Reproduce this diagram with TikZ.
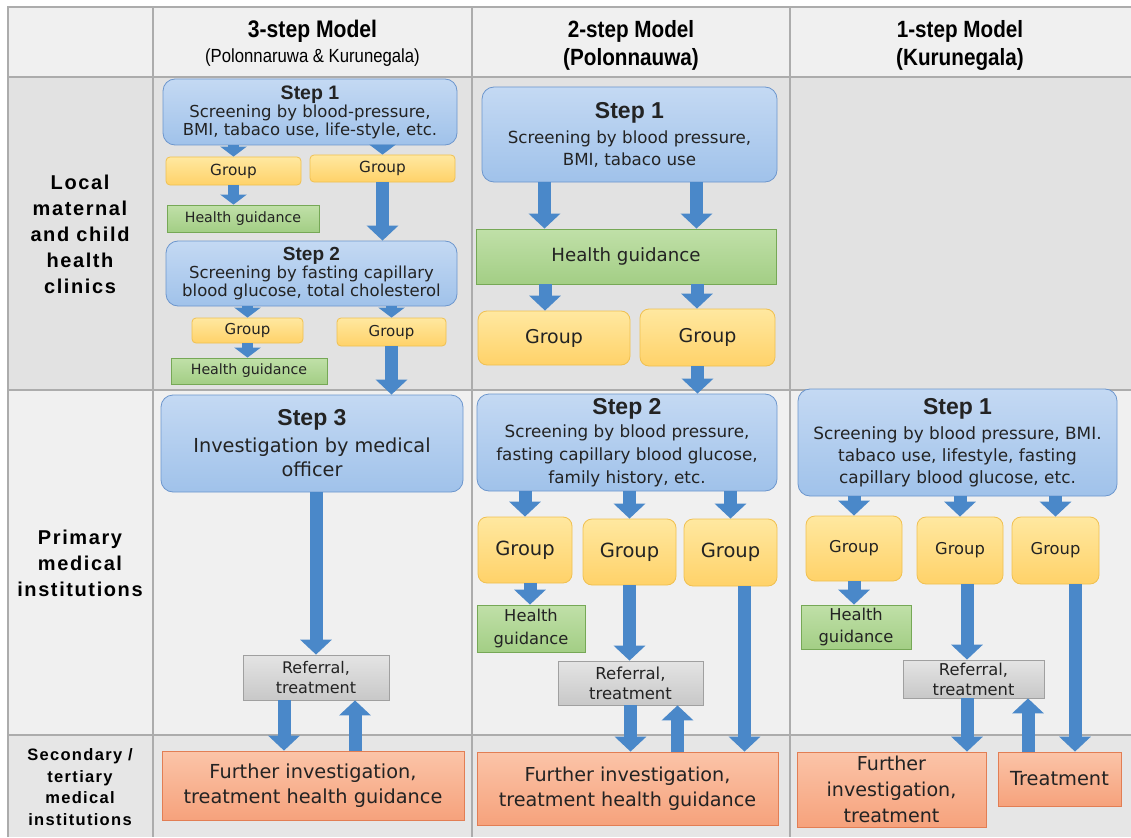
\documentclass[tikz,border=0pt]{standalone}
\usepackage{fontspec}
\setmainfont{DejaVu Sans}
\newfontfamily\headfont[FakeStretch=0.88]{Liberation Sans}
\newfontfamily\labelfont[LetterSpace=8]{Liberation Sans}
\newfontfamily\stepfont{Liberation Sans}
\usetikzlibrary{arrows.meta}

\newcommand\stepname[2]{{\stepfont\bfseries\fontsize{#1}{#1}\selectfont #2}}

\begin{document}
\begin{tikzpicture}[x=1pt,y=-1pt,
    every node/.style={text=txt, inner sep=0pt, align=center},
    stepbox/.style={draw=stepline, line width=0.8pt, rounded corners=12pt, top color=steptop, bottom color=stepbot},
    groupbox/.style={draw=grpline, line width=0.8pt, rounded corners=9pt, top color=grptop, bottom color=grpbot},
    guidebox/.style={draw=grnline, line width=0.8pt, top color=grntop, bottom color=grnbot},
    refbox/.style={draw=gryline, line width=0.8pt, top color=grytop, bottom color=grybot},
    furbox/.style={draw=orgline, line width=0.8pt, top color=orgtop, bottom color=orgbot},
    gridline/.style={draw=gridgray, line width=1.2pt},
    bigarrow/.style={draw=arrowblue, line width=13pt, -{Triangle[width=31pt,length=15pt]}},
    smallarrow/.style={draw=arrowblue, line width=11pt, -{Triangle[width=26pt,length=10pt]}}]

    % Changing colors
    \definecolor{txt}{RGB}{35,35,35}%
    \definecolor{gridgray}{RGB}{172,172,172}%
    \definecolor{hdrgray}{RGB}{240,240,240}%
    \definecolor{rowdark}{RGB}{226,226,226}%
    \definecolor{rowmid}{RGB}{230,230,230}%
    \definecolor{steptop}{RGB}{196,217,243}%
    \definecolor{stepbot}{RGB}{160,194,234}%
    \definecolor{stepline}{RGB}{108,150,205}%
    \definecolor{grptop}{RGB}{255,232,160}%
    \definecolor{grpbot}{RGB}{255,210,105}%
    \definecolor{grpline}{RGB}{240,192,80}%
    \definecolor{grntop}{RGB}{192,224,168}%
    \definecolor{grnbot}{RGB}{163,206,133}%
    \definecolor{grnline}{RGB}{118,168,86}%
    \definecolor{grytop}{RGB}{228,228,228}%
    \definecolor{grybot}{RGB}{200,200,200}%
    \definecolor{gryline}{RGB}{160,160,160}%
    \definecolor{orgtop}{RGB}{251,196,168}%
    \definecolor{orgbot}{RGB}{246,162,124}%
    \definecolor{orgline}{RGB}{226,126,84}%
    \definecolor{arrowblue}{RGB}{74,136,201}%

    \useasboundingbox (0,0) rectangle (1131,837);

    % Filling table rows
    \fill[hdrgray] (8,7) rectangle (1131,77);
    \fill[rowdark] (8,77) rectangle (1131,390);
    \fill[hdrgray] (8,390) rectangle (1131,735);
    \fill[rowmid] (8,735) rectangle (1131,837);

    % Drawing table lines
    \draw[gridline] (8,837) -- (8,7) -- (1131,7);
    \foreach \y in {77,390,735} \draw[gridline] (8,\y) -- (1131,\y);
    \foreach \x in {153,472,790} \draw[gridline] (\x,7) -- (\x,837);

    % Marking column heads
    \node[text=black, font=\headfont\fontsize{19}{25}\selectfont] (m3) at (312.5,43)
        {{\bfseries\fontsize{24}{24}\selectfont 3-step Model}\\(Polonnaruwa \& Kurunegala)};
    \node[text=black, font=\headfont\bfseries\fontsize{23.5}{28}\selectfont] (m2) at (631,45)
        {2-step Model\\(Polonnauwa)};
    \node[text=black, font=\headfont\bfseries\fontsize{23.5}{28}\selectfont] (m1) at (960,45)
        {1-step Model\\(Kurunegala)};

    % Marking row heads
    \node[text=black, font=\labelfont\bfseries\fontsize{20}{26}\selectfont] (local) at (80,234)
        {Local\\maternal\\and child\\health\\clinics};
    \node[text=black, font=\labelfont\bfseries\fontsize{20}{26}\selectfont] (primary) at (80,563)
        {Primary\\medical\\institutions};
    \node[text=black, font=\labelfont\bfseries\fontsize{16.5}{21.5}\selectfont] (secondary) at (80,787)
        {Secondary /\\tertiary\\medical\\institutions};

    % Drawing 3-step model
    \node[stepbox, minimum width=294pt, minimum height=66pt, font=\fontsize{16.5}{18}\selectfont] (s31) at (310,112)
        {\stepname{19.5}{Step 1}\\Screening by blood-pressure,\\BMI, tabaco use, life-style, etc.};
    \node[groupbox, rounded corners=4pt, minimum width=135pt, minimum height=28pt, font=\fontsize{15.3}{18}\selectfont] (g31a) at (233.5,171) {Group};
    \node[groupbox, rounded corners=4pt, minimum width=145pt, minimum height=27pt, font=\fontsize{15.3}{18}\selectfont] (g31b) at (382.5,168.5) {Group};
    \node[guidebox, minimum width=152pt, minimum height=27pt, font=\fontsize{14.2}{17}\selectfont] (h31) at (243,218.5) {Health guidance};
    \node[stepbox, minimum width=291pt, minimum height=65pt, font=\fontsize{16.5}{18}\selectfont] (s32) at (311.5,273.5)
        {\stepname{19}{Step 2}\\Screening by fasting capillary\\blood glucose, total cholesterol};
    \node[groupbox, rounded corners=4pt, minimum width=111pt, minimum height=25pt, font=\fontsize{15}{18}\selectfont] (g32a) at (247.5,330.5) {Group};
    \node[groupbox, rounded corners=4pt, minimum width=109pt, minimum height=28pt, font=\fontsize{15}{18}\selectfont] (g32b) at (391.5,332) {Group};
    \node[guidebox, minimum width=156pt, minimum height=26pt, font=\fontsize{14.2}{17}\selectfont] (h32) at (249,371) {Health guidance};
    \node[stepbox, minimum width=302pt, minimum height=97pt, font=\fontsize{19.3}{24}\selectfont] (s33) at (312,443.5)
        {\stepname{23}{Step 3}\\[3pt]Investigation by medical\\officer};
    \node[refbox, minimum width=146pt, minimum height=45pt, font=\fontsize{16}{20}\selectfont] (r3) at (316,677.5) {Referral,\\treatment};
    \node[furbox, minimum width=302pt, minimum height=69pt, font=\fontsize{19.3}{25}\selectfont] (f3) at (313,785.5)
        {Further investigation,\\treatment health guidance};

    \draw[smallarrow] (s31.south -| g31a) -- (g31a.north);
    \draw[smallarrow] (s31.south -| g31b) -- (g31b.north);
    \draw[smallarrow] (g31a.south) -- (g31a.south |- h31.north);
    \draw[bigarrow] (g31b.south) -- (g31b.south |- s32.north);
    \draw[smallarrow] (s32.south -| g32a) -- (g32a.north);
    \draw[smallarrow] (s32.south -| g32b) -- (g32b.north);
    \draw[smallarrow] (g32a.south) -- (g32a.south |- h32.north);
    \draw[bigarrow] (g32b.south) -- (g32b.south |- s33.north);
    \draw[bigarrow] (s33.south -| r3) -- (r3.north);
    \draw[bigarrow] ([xshift=-32pt]r3.south) -- ([xshift=-32pt]r3.south |- f3.north);
    \draw[bigarrow] ([xshift=39pt]r3.south |- f3.north) -- ([xshift=39pt]r3.south);

    % Drawing 2-step model
    \node[stepbox, minimum width=295pt, minimum height=95pt, font=\fontsize{16.7}{22}\selectfont] (s21) at (629.5,134.5)
        {\stepname{23}{Step 1}\\[3pt]Screening by blood pressure,\\BMI, tabaco use};
    \node[guidebox, minimum width=300pt, minimum height=55pt, font=\fontsize{18.2}{22}\selectfont] (h2) at (626,256.5) {Health guidance};
    \node[groupbox, minimum width=152pt, minimum height=54pt, font=\fontsize{19}{22}\selectfont] (g21a) at (554,338) {Group};
    \node[groupbox, minimum width=135pt, minimum height=57pt, font=\fontsize{19}{22}\selectfont] (g21b) at (707.5,337.5) {Group};
    \node[stepbox, minimum width=300pt, minimum height=97pt, font=\fontsize{16.8}{23}\selectfont] (s22) at (627,442.5)
        {\stepname{23}{Step 2}\\Screening by blood pressure,\\fasting capillary blood glucose,\\family history, etc.};
    \node[groupbox, minimum width=94pt, minimum height=66pt, font=\fontsize{19.5}{22}\selectfont] (g22a) at (525,550) {Group};
    \node[groupbox, minimum width=93pt, minimum height=66pt, font=\fontsize{19.5}{22}\selectfont] (g22b) at (629.5,552) {Group};
    \node[groupbox, minimum width=93pt, minimum height=67pt, font=\fontsize{19.5}{22}\selectfont] (g22c) at (730.5,552.5) {Group};
    \node[guidebox, minimum width=108pt, minimum height=47pt, font=\fontsize{16.3}{23}\selectfont] (h22) at (531,628.5) {Health\\guidance};
    \node[refbox, minimum width=145pt, minimum height=44pt, font=\fontsize{16.5}{20}\selectfont] (r2) at (630.5,683) {Referral,\\treatment};
    \node[furbox, minimum width=301pt, minimum height=73pt, font=\fontsize{19.2}{25}\selectfont] (f2) at (627.5,788.5)
        {Further investigation,\\treatment health guidance};

    \draw[bigarrow] ([xshift=-85pt]s21.south) -- ([xshift=-85pt]s21.south |- h2.north);
    \draw[bigarrow] ([xshift=67pt]s21.south) -- ([xshift=67pt]s21.south |- h2.north);
    \draw[bigarrow] ([xshift=-81pt]h2.south) -- ([xshift=-81pt]h2.south |- g21a.north);
    \draw[bigarrow] ([xshift=71pt]h2.south) -- ([xshift=71pt]h2.south |- g21b.north);
    \draw[bigarrow] ([xshift=-10pt]g21b.south) -- ([xshift=-10pt]g21b.south |- s22.north);
    \draw[bigarrow] (s22.south -| g22a) -- (g22a.north);
    \draw[bigarrow] (s22.south -| g22b) -- (g22b.north);
    \draw[bigarrow] (s22.south -| g22c) -- (g22c.north);
    \draw[bigarrow] ([xshift=5pt]g22a.south) -- ([xshift=5pt]g22a.south |- h22.north);
    \draw[bigarrow] (g22b.south) -- (g22b.south |- r2.north);
    \draw[bigarrow] (r2.south) -- (r2.south |- f2.north);
    \draw[bigarrow] ([xshift=47pt]r2.south |- f2.north) -- ([xshift=47pt]r2.south);
    \draw[bigarrow] ([xshift=14pt]g22c.south) -- ([xshift=14pt]g22c.south |- f2.north);

    % Drawing 1-step model
    \node[stepbox, minimum width=319pt, minimum height=107pt, font=\fontsize{16.9}{22}\selectfont] (s11) at (957.5,442.5)
        {\stepname{23}{Step 1}\\[3pt]Screening by blood pressure, BMI.\\tabaco use, lifestyle, fasting\\capillary blood glucose, etc.};
    \node[groupbox, minimum width=96pt, minimum height=65pt, font=\fontsize{16.3}{20}\selectfont] (g11a) at (854,548.5) {Group};
    \node[groupbox, minimum width=86pt, minimum height=67pt, font=\fontsize{16.3}{20}\selectfont] (g11b) at (960,550.5) {Group};
    \node[groupbox, minimum width=87pt, minimum height=67pt, font=\fontsize{16.3}{20}\selectfont] (g11c) at (1055.5,550.5) {Group};
    \node[guidebox, minimum width=110pt, minimum height=44pt, font=\fontsize{16.3}{22}\selectfont] (h11) at (856,627) {Health\\guidance};
    \node[refbox, minimum width=141pt, minimum height=38pt, font=\fontsize{16.3}{20}\selectfont] (r1) at (973.5,679) {Referral,\\treatment};
    \node[furbox, minimum width=189pt, minimum height=75pt, font=\fontsize{19.1}{26}\selectfont] (f1) at (891.5,789.5)
        {Further\\investigation,\\treatment};
    \node[furbox, minimum width=123pt, minimum height=54pt, font=\fontsize{19.4}{22}\selectfont] (t1) at (1059.5,779) {Treatment};

    \draw[bigarrow] (s11.south -| g11a) -- (g11a.north);
    \draw[bigarrow] (s11.south -| g11b) -- (g11b.north);
    \draw[bigarrow] (s11.south -| g11c) -- (g11c.north);
    \draw[bigarrow] (g11a.south) -- (g11a.south |- h11.north);
    \draw[bigarrow] ([xshift=7pt]g11b.south) -- ([xshift=7pt]g11b.south |- r1.north);
    \draw[bigarrow] ([xshift=-6.5pt]r1.south) -- ([xshift=-6.5pt]r1.south |- f1.north);
    \draw[bigarrow] ([xshift=54.5pt]r1.south |- t1.north) -- ([xshift=54.5pt]r1.south);
    \draw[bigarrow] ([xshift=19.5pt]g11c.south) -- ([xshift=19.5pt]g11c.south |- t1.north);
\end{tikzpicture}
\end{document}
